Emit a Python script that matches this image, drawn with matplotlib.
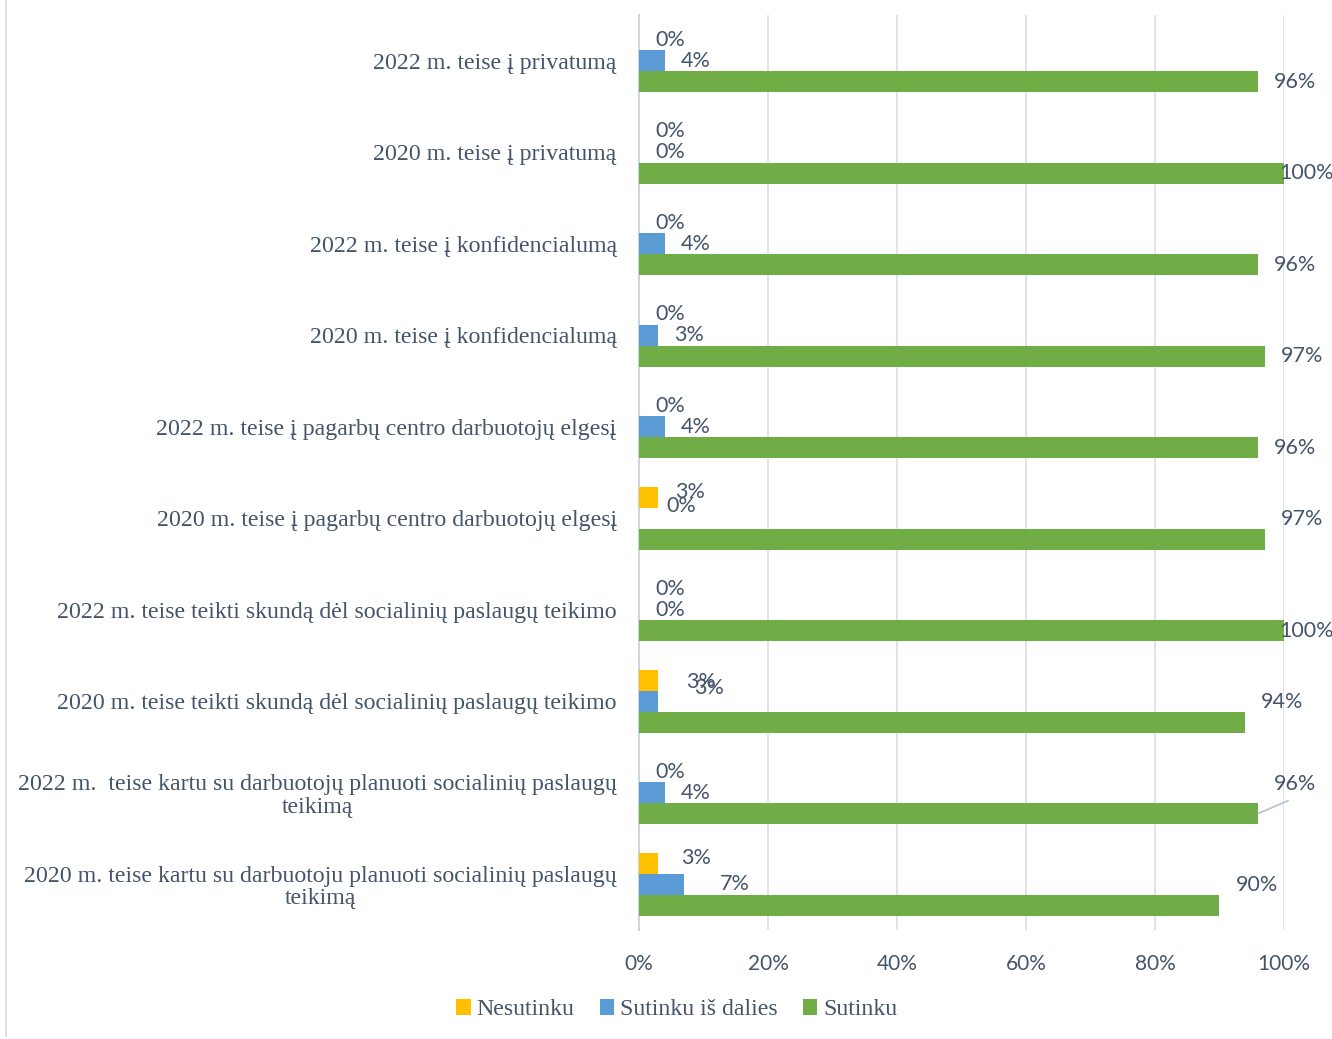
import matplotlib.pyplot as plt
from matplotlib.lines import Line2D

# categories, top to bottom
categories = [
    '2022 m. teise į privatumą',
    '2020 m. teise į privatumą',
    '2022 m. teise į konfidencialumą',
    '2020 m. teise į konfidencialumą',
    '2022 m. teise į pagarbų centro darbuotojų elgesį',
    '2020 m. teise į pagarbų centro darbuotojų elgesį',
    '2022 m. teise teikti skundą dėl socialinių paslaugų teikimo',
    '2020 m. teise teikti skundą dėl socialinių paslaugų teikimo',
    '2022 m.  teise kartu su darbuotojų planuoti socialinių paslaugų\nteikimą',
    '2020 m. teise kartu su darbuotoju planuoti socialinių paslaugų\nteikimą',
]
series_names = ['Nesutinku', 'Sutinku iš dalies', 'Sutinku']
nesutinku = [0, 0, 0, 0, 0, 3, 0, 3, 0, 3]
sutinku_is_dalies = [4, 0, 4, 3, 4, 0, 0, 3, 4, 7]
sutinku = [96, 100, 96, 97, 96, 97, 100, 94, 96, 90]

colors = ['#FFC000', '#5B9BD5', '#70AD47']
text_col = '#44546A'
grid_col = '#D9DEE6'

# manual label nudges in pixels (series, category) -> (dx, dy), dy positive = down
nudges = {
    (0, 5): (1, -5), (1, 5): (11, -12), (2, 5): (0, -20),
    (0, 7): (12, 2), (1, 7): (20, -13), (2, 7): (0, -20),
    (2, 8): (0, -30),
    (0, 9): (7, -5), (1, 9): (20, 0), (2, 9): (0, -20),
    (2, 1): (-21, 0), (2, 6): (-21, 0),
}


def main():
    fig = plt.figure(figsize=(13.32, 10.39), dpi=100)
    ax = fig.add_axes([0.4797, 0.1049, 0.4842, 0.8807])

    data = [nesutinku, sutinku_is_dalies, sutinku]
    h = 0.228
    offs = [-h, 0, h]
    px2pt = 72 / 100

    for s, vals in enumerate(data):
        ys = [i + offs[s] for i in range(len(categories))]
        ax.barh(ys, vals, height=h, color=colors[s], label=series_names[s], zorder=3)
        for i, v in enumerate(vals):
            dx, dy = nudges.get((s, i), (0, 0))
            ax.annotate('%d%%' % v, xy=(v, ys[i]),
                        xytext=((16 + dx) * px2pt, -dy * px2pt), textcoords='offset points',
                        ha='left', va='center', fontsize=15.5, family='Lato',
                        color=text_col, zorder=5)

    # leader line for the moved 96% label
    ax.annotate('', xy=(96, 8 + h), xytext=(30 * px2pt + 0, 13 * px2pt),
                textcoords='offset points',
                arrowprops=dict(arrowstyle='-', color='#B4BFD0', lw=1.2,
                                shrinkA=0, shrinkB=0))

    ax.set_xlim(0, 100)
    ax.set_ylim(len(categories) - 0.5, -0.5)
    ax.set_xticks(range(0, 101, 20))
    ax.set_xticklabels(['%d%%' % t for t in range(0, 101, 20)])
    ax.set_yticks(range(len(categories)))
    ax.set_yticklabels(categories, family='Liberation Serif', fontsize=17.2,
                       color=text_col, multialignment='center', linespacing=1.1)
    for lbl in ax.get_xticklabels():
        lbl.set_family('Lato')
        lbl.set_fontsize(15)
        lbl.set_color(text_col)
    ax.tick_params(axis='x', length=0, pad=17)
    ax.tick_params(axis='y', length=0, pad=16)
    ax.grid(axis='x', color=grid_col, lw=1.2, zorder=0)
    for sp in ['top', 'right', 'bottom']:
        ax.spines[sp].set_visible(False)
    ax.spines['left'].set_color('#D0D5DD')
    ax.spines['left'].set_linewidth(1.5)

    ax.legend(loc='center', bbox_to_anchor=(0.508, 0.028), bbox_transform=fig.transFigure,
              ncol=3, frameon=False, handlelength=0.6, handleheight=0.6,
              handletextpad=0.25, columnspacing=1.05,
              prop={'family': 'Liberation Serif', 'size': 17.2}, labelcolor=text_col)

    # chart border on the left
    fig.add_artist(Line2D([0.0048, 0.0048], [0.003, 1.0], color='#D9D9D9', lw=1.2))

    fig.savefig('out.png', dpi=100)


if __name__ == '__main__':
    main()
